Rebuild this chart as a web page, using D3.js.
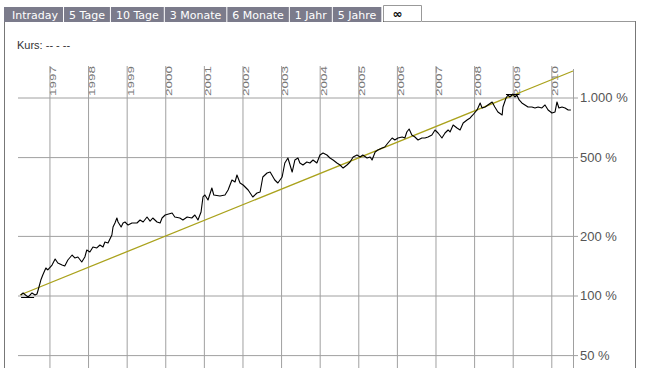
<!DOCTYPE html>
<html>
<head>
<meta charset="utf-8">
<script src="https://cdn.jsdelivr.net/npm/d3@7"></script>
<style>
  html, body { margin: 0; padding: 0; background: #fff; }
  svg { display: block; }
</style>
</head>
<body>
<script>
// tabs
const tabLabels = ["Intraday", "5 Tage", "10 Tage", "3 Monate", "6 Monate", "1 Jahr", "5 Jahre"];
const activeTab = "\u221e";

// ticks
const yearTicks = [1997, 1998, 1999, 2000, 2001, 2002, 2003, 2004, 2005, 2006, 2007, 2008, 2009, 2010];
const pctTicks = [1000, 500, 200, 100, 50];

// performance series (decimal year, percent)
const dates = [
  1996.27, 1996.33, 1996.46, 1996.56, 1996.64, 1996.69, 1996.72, 1996.79, 1996.84, 1996.92, 1996.97,
  1997.08, 1997.16, 1997.23, 1997.34, 1997.41, 1997.49, 1997.60, 1997.67, 1997.75, 1997.85, 1997.93, 1997.98,
  1998.06, 1998.14, 1998.24, 1998.32, 1998.40, 1998.45, 1998.53, 1998.63, 1998.66, 1998.71, 1998.76, 1998.79, 1998.87, 1998.92, 1998.97,
  1999.05, 1999.15, 1999.28, 1999.36, 1999.44, 1999.54, 1999.62, 1999.69, 1999.80, 1999.88, 1999.93,
  2000.01, 2000.19, 2000.26, 2000.39, 2000.47, 2000.58, 2000.70, 2000.78, 2000.86, 2000.94, 2000.99,
  2001.04, 2001.12, 2001.22, 2001.27, 2001.43, 2001.56, 2001.64, 2001.74, 2001.82, 2001.87, 2001.95,
  2002.03, 2002.16, 2002.28, 2002.39, 2002.47, 2002.54, 2002.65, 2002.73, 2002.85, 2002.93,
  2003.04, 2003.11, 2003.19, 2003.30, 2003.37, 2003.45, 2003.50, 2003.58, 2003.68, 2003.76, 2003.84, 2003.94,
  2004.02, 2004.10, 2004.20, 2004.28, 2004.36, 2004.46, 2004.54, 2004.62, 2004.72, 2004.80, 2004.88, 2004.98,
  2005.06, 2005.13, 2005.24, 2005.32, 2005.37, 2005.45, 2005.52, 2005.63, 2005.70, 2005.78, 2005.89, 2005.96,
  2006.04, 2006.15, 2006.22, 2006.27, 2006.33, 2006.40, 2006.48, 2006.56, 2006.66, 2006.74, 2006.82, 2006.92,
  2007.00, 2007.08, 2007.18, 2007.26, 2007.34, 2007.39, 2007.47, 2007.57, 2007.65, 2007.73, 2007.83, 2007.91, 2007.98,
  2008.09, 2008.17, 2008.22, 2008.30, 2008.37, 2008.48, 2008.55, 2008.63, 2008.74, 2008.76, 2008.84, 2008.89, 2008.94,
  2009.02, 2009.07, 2009.12, 2009.18, 2009.25, 2009.33, 2009.41, 2009.51, 2009.59, 2009.67, 2009.77, 2009.85, 2009.93,
  2010.03, 2010.11, 2010.16, 2010.21, 2010.29, 2010.37, 2010.45, 2010.52
];
const values = [
  100, 102.4, 97.5, 102.4, 100, 101.2, 106, 119, 126.2, 136.9, 133.8,
  141.7, 152, 145, 141.7, 140.1, 150.2, 159.2, 153.8, 155.6, 146.8, 155.6, 168.8,
  164.9, 174.7, 172.8, 178.9, 174.7, 185.2, 183, 201, 220.4, 231, 244.8, 233.7, 220.4, 231, 233.7,
  225.6, 231, 231, 239.2, 233.7, 247.7, 236, 244.8, 233.7, 231, 244.8,
  253.5, 259.5, 247.7, 244.8, 239.2, 247.7, 244.8, 253.5, 239.2, 262.5, 312.6,
  320, 301.8, 347, 320, 316.2, 320, 339.1, 380.9, 372.2, 403.7, 367.9,
  359.4, 339.1, 312.6, 327.5, 331.3, 394.5, 413.2, 418, 380.9, 367.9,
  394.5, 464.2, 491.9, 418, 480.6, 491.9, 464.2, 453.5, 469.6, 464.2, 480.6, 464.2,
  509.4, 521.4, 509.4, 491.9, 480.6, 464.2, 453.5, 437.8, 453.5, 469.6, 497.7, 509.4,
  497.7, 509.4, 491.9, 497.7, 480.6, 527.6, 540, 552.6, 559.2, 585.7, 620.9, 606.6,
  620.9, 628.1, 620.9, 665.7, 689.3, 642.9, 628.1, 606.6, 620.9, 620.9, 628.1, 642.9,
  681.4, 658, 620.9, 658, 681.4, 665.7, 722.2, 697.4, 681.4, 739.1, 765.4, 783.4, 811.3,
  860, 932.9, 880.2, 890.5, 911.5, 943.9, 890.5, 840.2, 811.3, 890.5, 988.9, 1023.5, 1000,
  1035.6, 1000, 1023.5, 966.2, 932.9, 911.5, 890.5, 890.5, 880.2, 890.5, 880.2, 911.5, 860,
  830.4, 840.2, 943.9, 880.2, 890.5, 880.2, 860, 860
];

// trend line end points
const trendDates = [1996.25, 2010.575];
const trendValues = [100, 1353];

const W = 645, H = 368;
const svg = d3.select("body").append("svg").attr("width", W).attr("height", H);

const de = d3.formatLocale({decimal: ",", thousands: ".", grouping: [3], currency: ["", " €"]});
const fmt = de.format(",d");

// scales
let x = d3.scaleLinear().domain([trendDates[0], trendDates[1]]).range([20, 573]);
let y = d3.scaleLog().domain([100, 1000]).range([295, 97]);
const plotTop = 66, plotBottom = H;

// tabs
let tabs = svg.append("g").attr("class", "tabs");
let cx = 4;
tabLabels.forEach((t, i) => {
    let padL = i === 0 ? 8 : 5;
    let tg = tabs.append("g");
    let rect = tg.append("rect").attr("y", 7).attr("height", 15).attr("fill", "#7b7b8b");
    let txt = tg.append("text").text(t)
        .attr("x", cx + padL).attr("y", 18.5)
        .attr("fill", "#fff")
        .style("font-family", "DejaVu Sans, Verdana, sans-serif")
        .style("font-size", "11px");
    let wd = txt.node().getComputedTextLength() + padL + 5;
    rect.attr("x", cx).attr("width", wd);
    cx += wd + 1;
});
let ax0 = Math.round(cx) + 1.5, ax1 = ax0 + 38;
tabs.append("path")
    .attr("d", `M${ax0},22 V5.5 H${ax1} V21.5 H635.5`)
    .attr("fill", "none").attr("stroke", "#999");
tabs.append("line").attr("x1", ax0).attr("x2", ax1).attr("y1", 21.5).attr("y2", 21.5)
    .attr("stroke", "#333").attr("stroke-dasharray", "1,1");
tabs.append("text").text(activeTab)
    .attr("x", ax0 + 9).attr("y", 18)
    .attr("fill", "#000")
    .style("font-family", "DejaVu Sans, sans-serif")
    .style("font-size", "12px").style("font-weight", "bold");

// frame
svg.append("line").attr("x1", 4.5).attr("x2", 4.5).attr("y1", 22).attr("y2", H).attr("stroke", "#777");
svg.append("line").attr("x1", 635.5).attr("x2", 635.5).attr("y1", 21).attr("y2", H).attr("stroke", "#777");

// Kurs
svg.append("text").text("Kurs: -- - --")
    .attr("x", 17).attr("y", 49)
    .attr("fill", "#333")
    .style("font-family", "Liberation Sans, Arial, sans-serif")
    .style("font-size", "11px");

// vertical gridlines
let axis_x = d3.axisBottom(x).tickValues(yearTicks).tickSize(plotBottom - plotTop).tickFormat("");
let gx = svg.append("g").attr("class", "scale_x")
    .attr("transform", `translate(0.5, ${plotTop})`)
    .call(axis_x);
gx.select(".domain").remove();
gx.selectAll("line").attr("stroke", "#a0a0a0");

// year labels
svg.append("g").attr("class", "years")
    .selectAll("text").data(yearTicks).enter()
    .append("text")
    .text(d => d)
    .attr("transform", d => `translate(${x(d) + 7.5}, 96) rotate(-90) scale(1.35, 0.9)`)
    .attr("fill", "#777")
    .style("font-family", "Liberation Sans, Arial, sans-serif")
    .style("font-size", "10px");

// horizontal gridlines + labels
let axis_y = d3.axisRight(y).tickValues(pctTicks).tickSize(-560).tickPadding(2)
    .tickFormat(d => fmt(d) + " %");
let gy = svg.append("g").attr("class", "scale_y")
    .attr("transform", "translate(578, 0.5)")
    .call(axis_y);
gy.select(".domain").remove();
gy.selectAll("line").attr("stroke", "#a0a0a0");
gy.selectAll("text")
    .attr("fill", "#555")
    .style("font-family", "Liberation Sans, Arial, sans-serif")
    .style("font-size", "13px");

// right border of plot
svg.append("line")
    .attr("x1", x(trendDates[1]) + 0.5).attr("x2", x(trendDates[1]) + 0.5)
    .attr("y1", plotTop + 3).attr("y2", plotBottom)
    .attr("stroke", "#a0a0a0");

// trend
let trend = d3.zip(trendDates, trendValues);
svg.append("path").datum(trend)
    .attr("d", d3.line().x(d => x(d[0])).y(d => y(d[1])))
    .attr("fill", "none").attr("stroke", "#aaa21c").attr("stroke-width", 1.3);

// series
let series = d3.zip(dates, values);
svg.append("path").datum(series)
    .attr("d", d3.line().x(d => x(d[0])).y(d => y(d[1])))
    .attr("fill", "none").attr("stroke", "#000").attr("stroke-width", 1.1)
    .attr("stroke-linejoin", "round");

// max / min markers
let hi = series[d3.maxIndex(values)], lo = series[d3.minIndex(values)];
svg.append("g").attr("class", "markers")
    .selectAll("line").data([hi, lo]).enter()
    .append("line")
    .attr("x1", d => x(d[0]) - 7).attr("x2", d => x(d[0]) + 6)
    .attr("y1", d => Math.round(y(d[1])) + 0.5).attr("y2", d => Math.round(y(d[1])) + 0.5)
    .attr("stroke", "#000");
</script>
</body>
</html>
